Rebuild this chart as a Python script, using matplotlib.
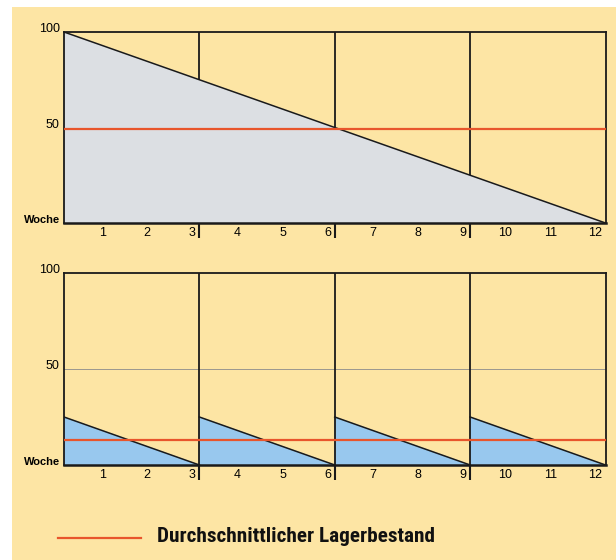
import numpy as np
import matplotlib
matplotlib.use("Agg")
import matplotlib.pyplot as plt
from matplotlib.lines import Line2D
from matplotlib.patches import Rectangle
from matplotlib.transforms import ScaledTranslation

# Lagerbestand (%) ueber 12 Wochen
weeks = list(range(1, 13))
week_labels = [str(w) for w in weeks]
order_weeks = [3, 6, 9]

# Eine Bestellung fuer 12 Wochen
top_x = [0, 12]
top_stock = [100, 0]
top_avg = 49

# Vier Bestellungen, je 3 Wochen
bot_x = [0, 3, 3, 6, 6, 9, 9, 12]
bot_stock = [25, 0, 25, 0, 25, 0, 25, 0]
bot_avg = 13

ytick_vals = [0, 50, 100]
ytick_labels = ["Woche", "50", "100"]
legend_label = "Durchschnittlicher Lagerbestand"

YELLOW = "#fde5a4"
GREY_FILL = "#dcdfe3"
BLUE_FILL = "#98c8ee"
RED = "#e8552c"

plt.rcParams["font.family"] = ["Liberation Sans", "DejaVu Sans"]

fig = plt.figure(figsize=(6.16, 5.6), dpi=100, facecolor="white")
fig.add_artist(Rectangle((12 / 616, 0), 1, 1 - 7 / 560, transform=fig.transFigure,
                         facecolor=YELLOW, edgecolor="none", zorder=-10))

W, H = 616.0, 560.0


def make_axes(top_px, bottom_px):
    ax = fig.add_axes([64 / W, 1 - bottom_px / H, 541.5 / W, (bottom_px - top_px) / H])
    ax.set_facecolor("none")
    ax.set_xlim(0, 12)
    ax.set_ylim(0, 100)
    for s in ax.spines.values():
        s.set_linewidth(1.3)
        s.set_color("#1a1a1a")
    ax.spines["bottom"].set_linewidth(1.8)
    ax.xaxis.remove_overlapping_locs = False
    ax.set_xticks(weeks)
    ax.set_xticklabels(week_labels, fontsize=9, ha="right")
    ax.tick_params(axis="x", which="major", length=0, pad=3)
    ax.set_xticks(order_weeks, minor=True)
    ax.tick_params(axis="x", which="minor", length=11, width=1.5, direction="out", color="#1a1a1a")
    # labels 1..12 sit just left of their week mark
    off = ScaledTranslation(-2.5 / 72, 0, fig.dpi_scale_trans)
    for lab in ax.get_xticklabels():
        lab.set_transform(lab.get_transform() + off)
    ax.set_yticks(ytick_vals)
    ax.set_yticklabels(ytick_labels, fontsize=9, va="baseline")
    ax.tick_params(axis="y", length=0, pad=3)
    ylabs = ax.get_yticklabels()
    ylabs[0].set_fontweight("bold")
    ylabs[0].set_fontsize(8)
    return ax


# oberes Diagramm
ax1 = make_axes(32, 223)
ax1.fill_between(top_x, top_stock, 0, color=GREY_FILL, zorder=1)
ax1.plot(top_x, top_stock, color="#1a1a1a", lw=1.1, zorder=3)
for w in order_weeks:
    ax1.vlines(w, np.interp(w, top_x, top_stock), 100, color="#1a1a1a", lw=1.3, zorder=3)
ax1.axhline(top_avg, color=RED, lw=1.6, zorder=4)

# unteres Diagramm
ax2 = make_axes(273, 465)
ax2.fill_between(bot_x, bot_stock, 0, color=BLUE_FILL, zorder=1)
for i in range(0, len(bot_x), 2):
    ax2.plot(bot_x[i:i + 2], bot_stock[i:i + 2], color="#1a1a1a", lw=1.1, zorder=3)
ax2.axhline(50, color="#9a978f", lw=0.7, zorder=2)
for w in order_weeks:
    ax2.vlines(w, 0, 100, color="#1a1a1a", lw=1.3, zorder=3)
ax2.axhline(bot_avg, color=RED, lw=1.6, zorder=4)

# Legende
fig.add_artist(Line2D([58 / W, 141 / W], [1 - 538 / H, 1 - 538 / H],
                      transform=fig.transFigure, color=RED, lw=1.6))
fig.text(157 / W, 1 - 537 / H, legend_label, fontsize=15.3, fontweight="bold",
         fontstretch="condensed",
         family=["DejaVu Sans Condensed", "Liberation Sans Narrow", "Roboto Condensed",
                 "Liberation Sans", "DejaVu Sans"],
         va="center", ha="left", color="#111111")

fig.savefig("out.png", dpi=100, facecolor=fig.get_facecolor())
